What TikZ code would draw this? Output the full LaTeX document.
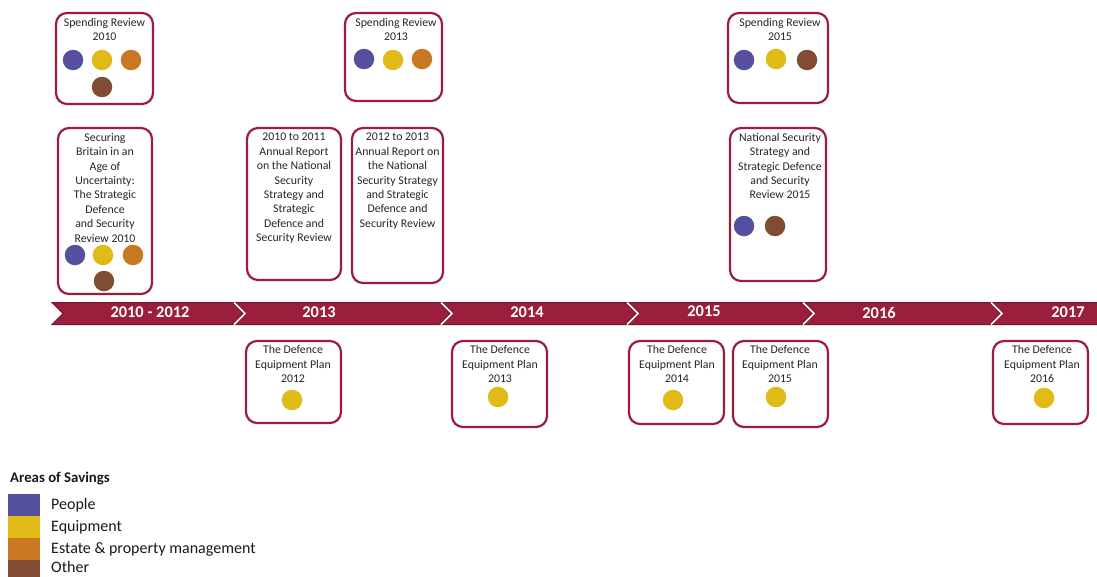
\documentclass[tikz,border=0pt]{standalone}
\usepackage{fontspec}
\setmainfont{Carlito}
\usetikzlibrary{calc}
\definecolor{maroon}{HTML}{9B1E3C}
\definecolor{maroondark}{HTML}{701530}
\definecolor{cpeople}{HTML}{54509E}
\definecolor{cequip}{HTML}{E0BA16}
\definecolor{cestate}{HTML}{C87820}
\definecolor{cother}{HTML}{804C34}
\tikzset{
  box/.style={draw=maroon, line width=2.2pt, rounded corners=11pt, fill=white, inner sep=0pt},
  txt/.style={align=center, inner sep=0pt, anchor=north, font=\fontsize{11.8}{14.4}\selectfont, text=black!85},
  dot/.style={circle, inner sep=0pt, minimum size=20.5pt},
  seg/.style={fill=maroon, draw=maroondark, line width=1pt, line join=miter},
  sep/.style={draw=white, line width=1.6pt},
  yr/.style={text=white, font=\fontsize{16.4}{18}\selectfont\bfseries, inner sep=0pt},
  legsq/.style={inner sep=0pt, minimum width=32pt, minimum height=22pt, anchor=north west},
  legtx/.style={anchor=west, inner sep=0pt, font=\fontsize{16}{18}\selectfont, text=black!90},
}
\begin{document}
\begin{tikzpicture}[x=1pt, y=-1pt]
\useasboundingbox (0,0) rectangle (1097,576);
% ---- timeline bar
\def\T{302.5}\def\B{324.5}\def\M{313.5}
\path[seg] (52,\T) -- (232,\T) -- (243,\M) -- (232,\B) -- (52,\B) -- (63,\M) -- cycle;
\path[seg] (233,\T) -- (439,\T) -- (450,\M) -- (439,\B) -- (233,\B) -- (244,\M) -- cycle;
\path[seg] (440,\T) -- (625,\T) -- (636,\M) -- (625,\B) -- (440,\B) -- (451,\M) -- cycle;
\path[seg] (626,\T) -- (801,\T) -- (812,\M) -- (801,\B) -- (626,\B) -- (637,\M) -- cycle;
\path[seg] (802,\T) -- (989,\T) -- (1000,\M) -- (989,\B) -- (802,\B) -- (813,\M) -- cycle;
\path[seg] (990,\T) -- (1100,\T) -- (1100,\B) -- (990,\B) -- (1001,\M) -- cycle;
\path[sep] (234,\T) -- (245,\M) -- (234,\B);
\path[sep] (441,\T) -- (452,\M) -- (441,\B);
\path[sep] (627,\T) -- (638,\M) -- (627,\B);
\path[sep] (803,\T) -- (814,\M) -- (803,\B);
\path[sep] (991,\T) -- (1002,\M) -- (991,\B);
\node[yr] (y1) at (150,312.5) {2010 - 2012};
\node[yr] (y2) at (319,312.5) {2013};
\node[yr] (y3) at (527,312.5) {2014};
\node[yr] (y4) at (704,311) {2015};
\node[yr] (y5) at (879,312.5) {2016};
\node[yr] (y6) at (1068,312.5) {2017};
% ---- top row: spending reviews
\node[box, minimum width=97pt, minimum height=91pt] (sr10) at (104.5,58.5) {};
\node[txt] (sr10t) at (104.5,18) {Spending Review\\2010};
\node[dot, fill=cpeople] (sr10a) at (73,60) {};
\node[dot, fill=cequip] (sr10b) at (102,60) {};
\node[dot, fill=cestate] (sr10c) at (131,60) {};
\node[dot, fill=cother] (sr10d) at (102,87) {};

\node[box, minimum width=97pt, minimum height=88pt] (sr13) at (393.5,57) {};
\node[txt] (sr13t) at (396,18) {Spending Review\\2013};
\node[dot, fill=cpeople] (sr13a) at (364,59) {};
\node[dot, fill=cequip] (sr13b) at (393,60) {};
\node[dot, fill=cestate] (sr13c) at (422,59) {};

\node[box, minimum width=100pt, minimum height=90pt] (sr15) at (778,58) {};
\node[txt] (sr15t) at (780,18) {Spending Review\\2015};
\node[dot, fill=cpeople] (sr15a) at (744,60) {};
\node[dot, fill=cequip] (sr15b) at (776,59) {};
\node[dot, fill=cother] (sr15c) at (807,60) {};
% ---- second row
\node[box, minimum width=94pt, minimum height=166pt] (sdsr) at (105,211) {};
\node[txt] (sdsrt) at (105,133) {Securing\\Britain in an\\Age of\\Uncertainty:\\The Strategic\\Defence\\and Security\\Review 2010};
\node[dot, fill=cpeople] (sdsra) at (75,255) {};
\node[dot, fill=cequip] (sdsrb) at (103,255) {};
\node[dot, fill=cestate] (sdsrc) at (133,255) {};
\node[dot, fill=cother] (sdsrd) at (104,281) {};

\node[box, minimum width=94pt, minimum height=152pt] (ar11) at (294,204) {};
\node[txt] (ar11t) at (294,133) {2010 to 2011\\Annual Report\\on the National\\Security\\Strategy and\\Strategic\\Defence and\\Security Review};

\node[box, minimum width=91pt, minimum height=155pt] (ar13) at (397.5,205.5) {};
\node[txt] (ar13t) at (397.5,133) {2012 to 2013\\Annual Report on\\the National\\Security Strategy\\and Strategic\\Defence and\\Security Review};

\node[box, minimum width=96pt, minimum height=153pt] (nss) at (778,204.5) {};
\node[txt] (nsst) at (780,133) {National Security\\Strategy and\\Strategic Defence\\and Security\\Review 2015};
\node[dot, fill=cpeople] (nssa) at (744,226) {};
\node[dot, fill=cother] (nssb) at (775,226) {};
% ---- bottom row: equipment plans
\node[box, minimum width=95pt, minimum height=82pt] (dep12) at (293.5,382) {};
\node[txt] (dep12t) at (293,345.5) {The Defence\\Equipment Plan\\2012};
\node[dot, fill=cequip] (dep12a) at (292,400) {};

\node[box, minimum width=95pt, minimum height=86pt] (dep13) at (499.5,384) {};
\node[txt] (dep13t) at (500,345.5) {The Defence\\Equipment Plan\\2013};
\node[dot, fill=cequip] (dep13a) at (498,397) {};

\node[box, minimum width=95pt, minimum height=83pt] (dep14) at (676.5,382.5) {};
\node[txt] (dep14t) at (677,345.5) {The Defence\\Equipment Plan\\2014};
\node[dot, fill=cequip] (dep14a) at (673,400) {};

\node[box, minimum width=95pt, minimum height=86pt] (dep15) at (780.5,384) {};
\node[txt] (dep15t) at (780,345.5) {The Defence\\Equipment Plan\\2015};
\node[dot, fill=cequip] (dep15a) at (776,397) {};

\node[box, minimum width=95pt, minimum height=83pt] (dep16) at (1040.5,382.5) {};
\node[txt] (dep16t) at (1042,345.5) {The Defence\\Equipment Plan\\2016};
\node[dot, fill=cequip] (dep16a) at (1044,398) {};
% ---- legend
\node[anchor=west, inner sep=0pt, font=\fontsize{14.8}{16}\selectfont\bfseries, text=black!90] (legt) at (10,479) {Areas of Savings};
\node[legsq, fill=cpeople] (lsq1) at (8,494) {};
\node[legsq, fill=cequip] (lsq2) at (8,516) {};
\node[legsq, fill=cestate] (lsq3) at (8,538) {};
\node[legsq, fill=cother] (lsq4) at (8,560) {};
\node[legtx] (lt1) at (51,505) {People};
\node[legtx] (lt2) at (51,527) {Equipment};
\node[legtx] (lt3) at (51,549) {Estate \& property management};
\node[legtx] (lt4) at (51,567) {Other};
\end{tikzpicture}
\end{document}
